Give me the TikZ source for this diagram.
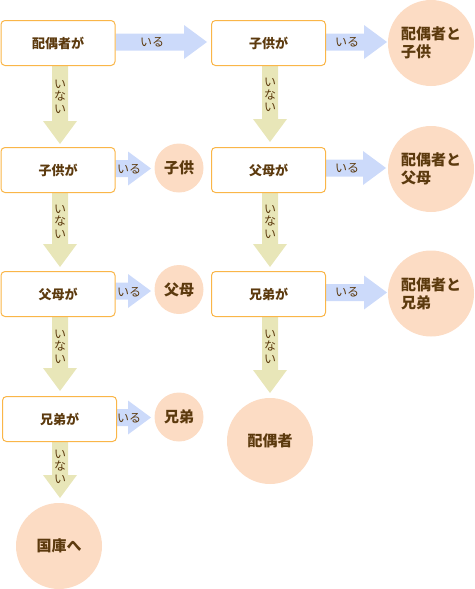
\documentclass[tikz,border=0pt]{standalone}
\usepackage{fontspec}
\setmainfont{Noto Sans CJK JP}
\usetikzlibrary{calc,backgrounds}
\definecolor{boxline}{RGB}{250,182,72}
\definecolor{circfill}{RGB}{252,220,196}
\definecolor{dnfill}{RGB}{232,230,184}
\definecolor{rtfill}{RGB}{204,218,250}
\definecolor{txt}{RGB}{92,58,14}
\newcommand\dnarrow[2]{\fill[dnfill] ($(#1)+(-8,0)$) -- ($(#2)+(-8,-23)$) -- ($(#2)+(-17,-23)$) -- (#2) -- ($(#2)+(17,-23)$) -- ($(#2)+(8,-23)$) -- ($(#1)+(8,0)$) -- cycle;}
\newcommand\rtarrow[2]{\fill[rtfill] ($(#1)+(0,-8.5)$) -- ($(#2)+(-23,-8.5)$) -- ($(#2)+(-23,-17)$) -- (#2) -- ($(#2)+(-23,17)$) -- ($(#2)+(-23,8.5)$) -- ($(#1)+(0,8.5)$) -- cycle;}
\begin{document}
\begin{tikzpicture}[x=1pt,y=-1pt,
  box/.style={draw=boxline,line width=1pt,fill=white,rounded corners=4pt,minimum width=114pt,minimum height=45pt,inner sep=0pt,font=\bfseries\fontsize{13}{15}\selectfont,text=txt},
  bigc/.style={circle,fill=circfill,minimum size=86pt,inner sep=0pt,align=left,font=\bfseries\fontsize{15}{18}\selectfont,text=txt},
  smallc/.style={circle,fill=circfill,minimum size=49pt,inner sep=0pt,font=\bfseries\fontsize{15}{18}\selectfont,text=txt},
  lab/.style={inner sep=0pt,text=txt,font=\fontsize{12}{13}\selectfont},
  vlab/.style={inner sep=0pt,text=txt,align=center,font=\fontsize{12}{12.5}\selectfont}]
\useasboundingbox (0,0) rectangle (474,589);
% boxes
\node[box] (A) at (58,43) {配偶者が};
\node[box] (B) at (58,170) {子供が};
\node[box] (C) at (58,294) {父母が};
\node[box] (D) at (59.5,419) {兄弟が};
\node[box] (E) at (268.5,43) {子供が};
\node[box] (F) at (268.5,170) {父母が};
\node[box] (G) at (268.5,294) {兄弟が};
% circles
\node[bigc] (R1) at (431,43) {配偶者と\\子供};
\node[bigc] (R2) at (431,169) {配偶者と\\父母};
\node[bigc] (R3) at (431,293.5) {配偶者と\\兄弟};
\node[bigc] (R4) at (270,441) {配偶者};
\node[bigc] (R5) at (59,546) {国庫へ};
\node[smallc] (S1) at (179,168) {子供};
\node[smallc] (S2) at (179,289.5) {父母};
\node[smallc] (S3) at (179,417) {兄弟};
% arrow tips
\coordinate (t1) at (60,144);
\coordinate (t2) at (60,267);
\coordinate (t3) at (60,391);
\coordinate (t4) at (60,498);
\coordinate (t5) at (270,142);
\coordinate (t6) at (270,267);
\coordinate (t7) at (270,393);
\coordinate (r1) at (207,42);
\coordinate (r2) at (387,42);
\coordinate (r3) at (386,168);
\coordinate (r4) at (387,292.5);
\coordinate (r5) at (151,168.5);
\coordinate (r6) at (151,291);
\coordinate (r7) at (151,417.5);
\begin{scope}[on background layer]
\dnarrow{t1 |- A.south}{t1}
\dnarrow{t2 |- B.south}{t2}
\dnarrow{t3 |- C.south}{t3}
\dnarrow{t4 |- D.south}{t4}
\dnarrow{t5 |- E.south}{t5}
\dnarrow{t6 |- F.south}{t6}
\dnarrow{t7 |- G.south}{t7}
\rtarrow{A.east |- r1}{r1}
\rtarrow{E.east |- r2}{r2}
\rtarrow{F.east |- r3}{r3}
\rtarrow{G.east |- r4}{r4}
\rtarrow{B.east |- r5}{r5}
\rtarrow{C.east |- r6}{r6}
\rtarrow{D.east |- r7}{r7}
\end{scope}
% labels
\node[lab] (l1) at (152,42) {いる};
\node[lab] (l2) at (347,42) {いる};
\node[lab] (l3) at (347,168) {いる};
\node[lab] (l4) at (347,292.5) {いる};
\node[lab] (l5) at (129,169) {いる};
\node[lab] (l6) at (129,292) {いる};
\node[lab] (l7) at (129,418) {いる};
\node[vlab] (v1) at (60,96.5) {い\\な\\い};
\node[vlab] (v2) at (60,221.5) {い\\な\\い};
\node[vlab] (v3) at (60,346.5) {い\\な\\い};
\node[vlab] (v4) at (60,466.5) {い\\な\\い};
\node[vlab] (v5) at (270,95) {い\\な\\い};
\node[vlab] (v6) at (270,221.5) {い\\な\\い};
\node[vlab] (v7) at (270,346.5) {い\\な\\い};
\end{tikzpicture}
\end{document}
